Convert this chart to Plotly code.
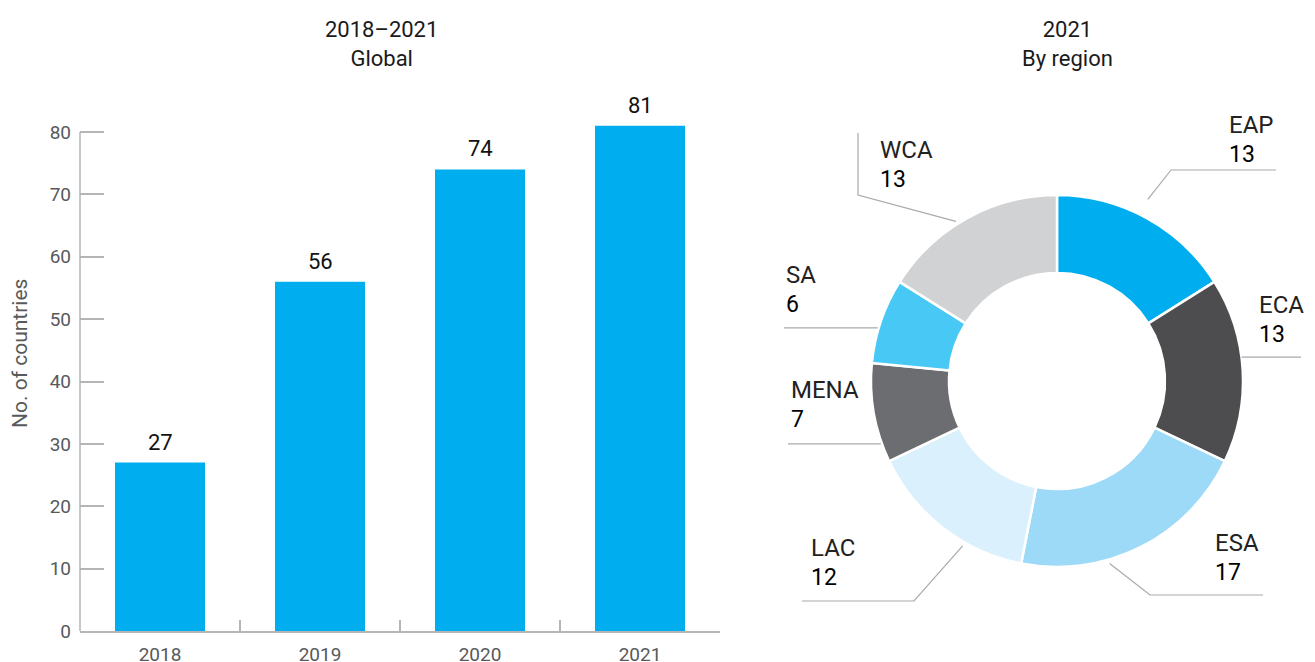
import math
import plotly.graph_objects as go

# ---------------- data ----------------
years = ["2018", "2019", "2020", "2021"]
countries = [27, 56, 74, 81]

regions = ["EAP", "ECA", "ESA", "LAC", "MENA", "SA", "WCA"]
region_counts = [13, 13, 17, 12, 7, 6, 13]
region_colors = ["#00AEEF", "#4D4D4F", "#9DDAF7", "#DAF0FC", "#6C6D70", "#48C8F4", "#D1D2D4"]

y_ticks = [0, 10, 20, 30, 40, 50, 60, 70, 80]

# ---------------- layout constants (pixels, in window coordinates) ----------------
PAGE_OFF = 8                    # default page body margin
W, H = 1315 - PAGE_OFF, 662 - PAGE_OFF
FONT = "Roboto"
AXIS_COL = "#B5B5B5"
TICK_COL = "#58595B"

def px(x):
    return (x - PAGE_OFF) / W

def py(y):
    return 1 - (y - PAGE_OFF) / H

# bar plot area
bx0, bx1 = 80, 720
by0 = 631                      # y = 0
unit = (631 - 132) / 80        # px per unit
ymax = 88
by1 = by0 - ymax * unit

# donut geometry
cx, cy, R, r_in = 1057, 381, 186, 108

# label styles: slice fraction for anchor, anchor radius, following points, text x, text y
label_style = {
    "EAP":  dict(frac=0.46, rad=203, pts=[(1171, 170), (1276, 170)], tx=1227, ty=125),
    "ECA":  dict(frac=0.43, rad=186, pts=[(1301, None)], tx=1257, ty=305),
    "ESA":  dict(frac=0.64, rad=190, pts=[(1150, 595), (1263, 595)], tx=1213, ty=543),
    "LAC":  dict(frac=0.35, rad=190, pts=[(914, 601), (802, 601)], tx=809, ty=548),
    "MENA": dict(frac=0.19, rad=187, pts=[(788, None)], tx=789, ty=390),
    "SA":   dict(frac=0.41, rad=187, pts=[(784, None)], tx=784, ty=275),
    "WCA":  dict(frac=0.44, rad=189, pts=[(858, 195), (858, 133)], tx=878, ty=150),
}

fig = go.Figure()

fig.add_trace(go.Bar(
    x=years, y=countries, marker=dict(color="#00AEEF", line=dict(width=0)),
    hoverinfo="x+y", showlegend=False,
))

fig.add_trace(go.Pie(
    labels=regions, values=region_counts, sort=False, direction="clockwise",
    rotation=0, hole=r_in / R, automargin=False,
    marker=dict(colors=region_colors, line=dict(color="white", width=2.5)),
    textinfo="none", showlegend=False,
    domain=dict(x=[px(cx - R), px(cx + R)], y=[py(cy + R), py(cy - R)]),
))

annotations = []
shapes = []

# bar value labels (category index positions)
for i, v in enumerate(countries):
    annotations.append(dict(
        x=i, y=v, xref="x", yref="y", text=str(v), showarrow=False,
        yanchor="bottom", yshift=6, font=dict(family=FONT, size=22, color="#111111"),
    ))

# titles
annotations.append(dict(x=px(381), y=py(44), xref="paper", yref="paper",
                        text="2018–2021<br>Global", showarrow=False, align="center",
                        xanchor="center", yanchor="middle",
                        font=dict(family=FONT, size=22, color="#1A1A1A")))
annotations.append(dict(x=px(1067), y=py(44), xref="paper", yref="paper",
                        text="2021<br>By region", showarrow=False, align="center",
                        xanchor="center", yanchor="middle",
                        font=dict(family=FONT, size=22, color="#1A1A1A")))

# y axis title
annotations.append(dict(x=px(20), y=py(354), xref="paper", yref="paper",
                        text="No. of countries", showarrow=False, textangle=-90,
                        xanchor="center", yanchor="middle",
                        font=dict(family=FONT, size=21, color=TICK_COL)))

# y axis line (only up to 80)
shapes.append(dict(type="line", xref="x domain", yref="y", x0=0, x1=0, y0=0, y1=y_ticks[-1],
                   line=dict(color=AXIS_COL, width=1.5)))

# donut labels & leader lines
total = sum(region_counts)
cum = 0
for name, val in zip(regions, region_counts):
    st = label_style[name]
    a0 = cum / total * 2 * math.pi
    a1 = (cum + val) / total * 2 * math.pi
    cum += val
    ang = a0 + st["frac"] * (a1 - a0)
    sx = cx + st["rad"] * math.sin(ang)
    sy = cy - st["rad"] * math.cos(ang)
    path = f"M {px(sx)},{py(sy)}"
    for (qx, qy) in st["pts"]:
        qy = sy if qy is None else qy
        path += f" L {px(qx)},{py(qy)}"
    shapes.append(dict(type="path", xref="paper", yref="paper", path=path,
                       line=dict(color="#A7A9AC", width=1.2)))
    annotations.append(dict(x=px(st["tx"]), y=py(st["ty"]), xref="paper", yref="paper",
                            text=name, showarrow=False, xanchor="left", yanchor="middle",
                            font=dict(family=FONT, size=24, color="#222222")))
    annotations.append(dict(x=px(st["tx"]), y=py(st["ty"] + 29), xref="paper", yref="paper",
                            text=str(val), showarrow=False, xanchor="left", yanchor="middle",
                            font=dict(family=FONT, size=23, color="#000000")))

fig.update_layout(
    width=W, height=H,
    margin=dict(l=0, r=0, t=0, b=0, autoexpand=False),
    paper_bgcolor="white", plot_bgcolor="white",
    bargap=70 / 160,
    font=dict(family=FONT),
    xaxis=dict(
        domain=[px(bx0), px(bx1)], type="category", range=[-0.5, len(years) - 0.5],
        automargin=False,
        showline=True, linecolor=AXIS_COL, linewidth=1.5,
        ticks="inside", tickson="boundaries", ticklen=11, tickcolor=AXIS_COL, tickwidth=1.5,
        showgrid=False, zeroline=False, fixedrange=True,
        tickfont=dict(family=FONT, size=19, color=TICK_COL),
        ticklabelstandoff=5,
    ),
    yaxis=dict(
        domain=[py(by0), py(by1)], range=[0, ymax], automargin=False,
        showline=False, tickvals=y_ticks,
        ticks="inside", ticklen=24, tickcolor=AXIS_COL, tickwidth=1.5,
        showgrid=False, zeroline=False, fixedrange=True,
        tickfont=dict(family=FONT, size=19, color=TICK_COL),
        ticklabelstandoff=8,
    ),
    annotations=annotations,
    shapes=shapes,
)

fig.write_html("out.html")
